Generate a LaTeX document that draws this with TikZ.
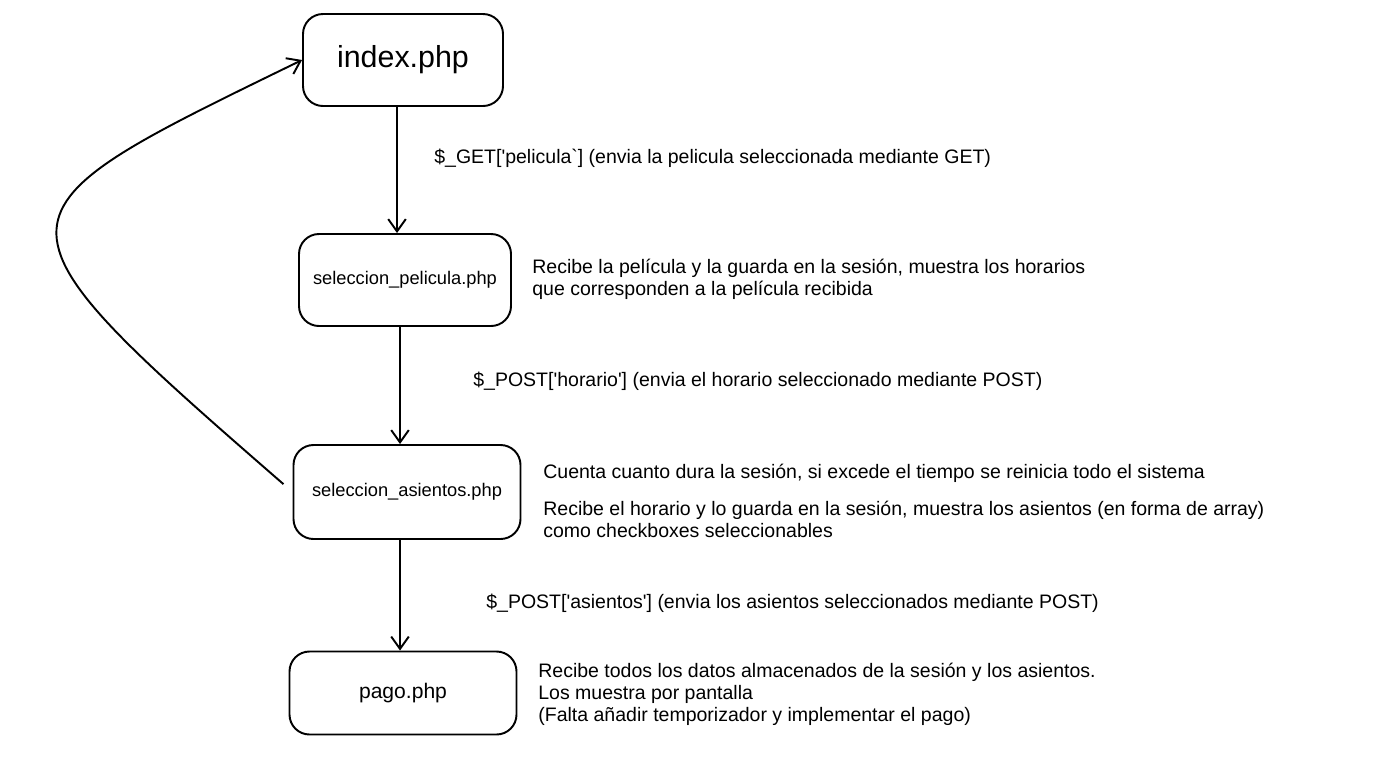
\documentclass[tikz,border=0pt]{standalone}
\usepackage{fontspec}
\setmainfont{Liberation Sans}
\usetikzlibrary{arrows.meta}

\begin{document}
\begin{tikzpicture}[
    page/.style={draw, line width=1.1pt, rounded corners=0.4cm, align=center,
        inner sep=0pt},
    note/.style={anchor=west, align=left, inner sep=0pt,
        font=\fontsize{11.1}{12.5}\selectfont},
    flow/.style={-{Straight Barb[length=7pt, width=10pt]}, line width=1.1pt}
]

    \useasboundingbox (0,0) rectangle (27.6,-15.46);

    %% Pages

    % Boxes
    \node[page, minimum width=4cm, minimum height=1.84cm,
        font=\fontsize{17.3}{19}\selectfont] (index) at (8.06,-1.2) {index.php};
    \node[page, minimum width=4.24cm, minimum height=1.84cm,
        font=\fontsize{10.4}{12}\selectfont] (pelicula) at (8.1,-5.6) {seleccion\_pelicula.php};
    \node[page, minimum width=4.54cm, minimum height=1.88cm,
        font=\fontsize{10.4}{12}\selectfont] (asientos) at (8.14,-9.84) {seleccion\_asientos.php};
    \node[page, minimum width=4.54cm, minimum height=1.66cm,
        font=\fontsize{12}{14}\selectfont] (pago) at (8.06,-13.86) {pago.php};

    % Requests
    \draw[flow] ([xshift=-0.12cm]index.south) -- ([xshift=-0.12cm]index.south |- pelicula.north);
    \draw[flow] ([xshift=-0.1cm]pelicula.south) -- ([xshift=-0.1cm]pelicula.south |- asientos.north);
    \draw[flow] ([xshift=-0.14cm]asientos.south) -- ([xshift=-0.14cm]asientos.south |- pago.north);
    \draw[flow, shorten <=0.24cm] (asientos.west)
        to[out=139, in=206, out looseness=2.5, in looseness=2.1] (index.west);

    % Labels
    \node[note] (get) at (8.68,-3.16)
        {\$\_GET[\textquotesingle pelicula\textasciigrave] (envia la pelicula seleccionada mediante GET)};
    \node[note] (horario) at (9.46,-7.62)
        {\$\_POST[\textquotesingle horario\textquotesingle] (envia el horario seleccionado mediante POST)};
    \node[note] (post) at (9.72,-12.06)
        {\$\_POST[\textquotesingle asientos\textquotesingle] (envia los asientos seleccionados mediante POST)};

    % Notes
    \node[note] (notapelicula) at (10.64,-5.58)
        {Recibe la película y la guarda en la sesión, muestra los horarios\\
         que corresponden a la película recibida};
    \node[note] (notatiempo) at (10.86,-9.46)
        {Cuenta cuanto dura la sesión, si excede el tiempo se reinicia todo el sistema};
    \node[note] (notaasientos) at (10.86,-10.38)
        {Recibe el horario y lo guarda en la sesión, muestra los asientos (en forma de array)\\
         como checkboxes seleccionables};
    \node[note] (notapago) at (10.76,-13.88)
        {Recibe todos los datos almacenados de la sesión y los asientos.\\
         Los muestra por pantalla\\
         (Falta añadir temporizador y implementar el pago)};

\end{tikzpicture}
\end{document}
